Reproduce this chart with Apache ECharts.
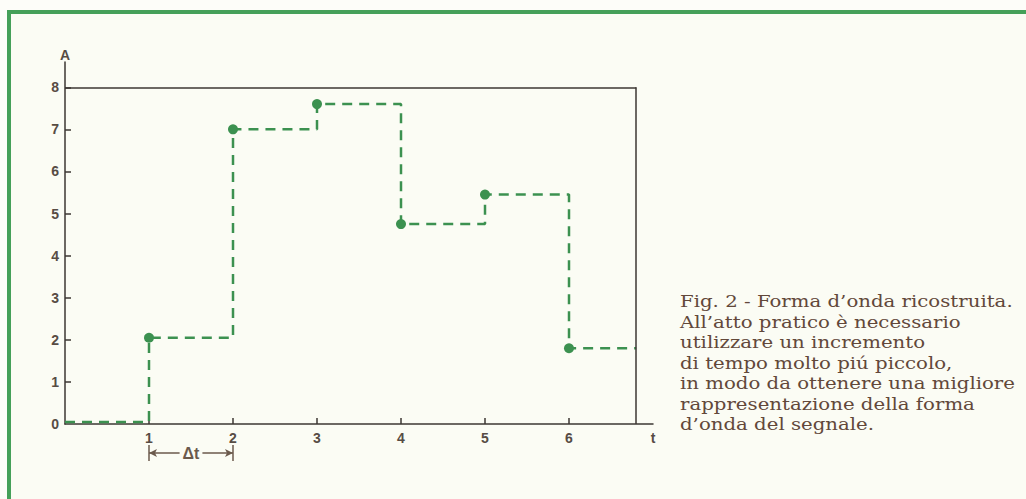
<!DOCTYPE html>
<html>
<head>
<meta charset="utf-8">
<script src="https://cdn.jsdelivr.net/npm/echarts@6/dist/echarts.min.js"></script>
<style>
  html, body { margin: 0; padding: 0; overflow: hidden; background: #fdfdf9; }
  .frame {
    position: absolute; left: 7px; top: 10px; width: 1100px; height: 600px;
    border: 4px solid #45a059; background: #fbfcf4;
  }
  #step {
    position: absolute; left: 0; top: 0; width: 1026px; height: 499px;
  }
</style>
</head>
<body>
<div class="frame"></div>
<div id="step"></div>
<script>
// campioni del segnale ricostruito (t, A)
const sampleTimes = [0, 1, 2, 3, 4, 5, 6];
const sampleValues = [0.05, 2.05, 7.0, 7.6, 4.75, 5.45, 1.8];
const yTicks = [0, 1, 2, 3, 4, 5, 6, 7, 8];
const xTicks = [1, 2, 3, 4, 5, 6];
const frameTop = 8;
const frameRight = 6.8;
const caption = [
  "Fig. 2 - Forma d\u2019onda ricostruita.",
  "All\u2019atto pratico \u00e8 necessario",
  "utilizzare un incremento",
  "di tempo molto pi\u00fa piccolo,",
  "in modo da ottenere una migliore",
  "rappresentazione della forma",
  "d\u2019onda del segnale."
];

const ink = "#3c3733";
const labelInk = "#574c44";
const green = "#3c9150";

// punti: il primo tratto parte dall'asse, l'ultimo arriva al bordo del riquadro
const stepData = sampleTimes.map((t, i) => ({
  value: [t, sampleValues[i]],
  symbol: i === 0 ? "none" : "circle"
}));
stepData.push({ value: [frameRight, sampleValues[sampleValues.length - 1]], symbol: "none" });

const labelFont = { color: labelInk, fontWeight: "bold", fontSize: 14, fontFamily: "Liberation Sans" };

const option = {
  backgroundColor: "transparent",
  animation: false,
  grid: [
    { left: 65, right: 373, top: 62, bottom: 75 },
    { left: 65, right: 373, top: 445, height: 16 }
  ],
  xAxis: [
    {
      type: "value", gridIndex: 0, min: 0, max: 7,
      splitLine: { show: false },
      axisLine: { lineStyle: { color: ink, width: 1.5 } },
      axisTick: { inside: true, length: 6, customValues: xTicks, lineStyle: { color: ink, width: 1.5 } },
      axisLabel: Object.assign({
        margin: 7,
        customValues: xTicks.concat([7]),
        formatter: v => (v === 7 ? "t" : String(v))
      }, labelFont)
    },
    { type: "value", gridIndex: 1, min: 0, max: 7, show: false }
  ],
  yAxis: [
    {
      type: "value", gridIndex: 0, min: 0, max: 8.6,
      name: "A", nameGap: 0,
      nameTextStyle: Object.assign({ align: "center" }, labelFont),
      splitLine: { show: false },
      axisLine: { lineStyle: { color: ink, width: 1.5 } },
      axisTick: { inside: true, length: 6, customValues: yTicks.slice(1), lineStyle: { color: ink, width: 1.5 } },
      axisLabel: Object.assign({ margin: 6, customValues: yTicks }, labelFont)
    },
    { type: "value", gridIndex: 1, min: 0, max: 1, show: false }
  ],
  series: [
    {
      type: "line",
      step: "end",
      data: stepData,
      symbolSize: 10,
      itemStyle: { color: green },
      lineStyle: { color: green, width: 2.5, type: [10, 7] },
      markLine: {
        silent: true,
        symbol: "none",
        label: { show: false },
        lineStyle: { color: ink, width: 1.5, type: "solid" },
        data: [
          [{ coord: [0, frameTop] }, { coord: [frameRight, frameTop] }],
          [{ coord: [frameRight, 0] }, { coord: [frameRight, frameTop] }]
        ]
      }
    },
    {
      // freccia dell'intervallo di campionamento
      type: "line", xAxisIndex: 1, yAxisIndex: 1, data: [],
      markLine: {
        silent: true,
        symbol: ["arrow", "arrow"],
        symbolSize: [6, 8],
        lineStyle: { color: "#6b5a4c", width: 1.5, type: "solid" },
        label: {
          show: true, position: "insideMiddle", formatter: "\u0394t",
          color: "#6b5a4c", fontWeight: "bold", fontSize: 16, fontFamily: "Liberation Sans",
          backgroundColor: "#fbfcf4", padding: [0, 3]
        },
        data: [[{ coord: [1, 0.5] }, { coord: [2, 0.5] }]]
      }
    },
    {
      type: "line", xAxisIndex: 1, yAxisIndex: 1, data: [],
      markLine: {
        silent: true,
        symbol: "none",
        label: { show: false },
        lineStyle: { color: "#6b5a4c", width: 1.5, type: "solid" },
        data: [
          [{ coord: [1, 0] }, { coord: [1, 1] }],
          [{ coord: [2, 0] }, { coord: [2, 1] }]
        ]
      }
    }
  ],
  graphic: [
    {
      // didascalia: carattere un po' allargato per avvicinarsi al tipo originale
      type: "text", x: 680, y: 291, scaleX: 1.16,
      style: {
        text: caption.join("\n"),
        fill: "#62483a",
        font: "17px 'DejaVu Serif'",
        lineHeight: 20.5
      }
    }
  ]
};

const myChart = echarts.init(document.getElementById("step"), null, { renderer: "svg" });
myChart.setOption(option);
window.addEventListener("resize", () => myChart.resize());
</script>
</body>
</html>
